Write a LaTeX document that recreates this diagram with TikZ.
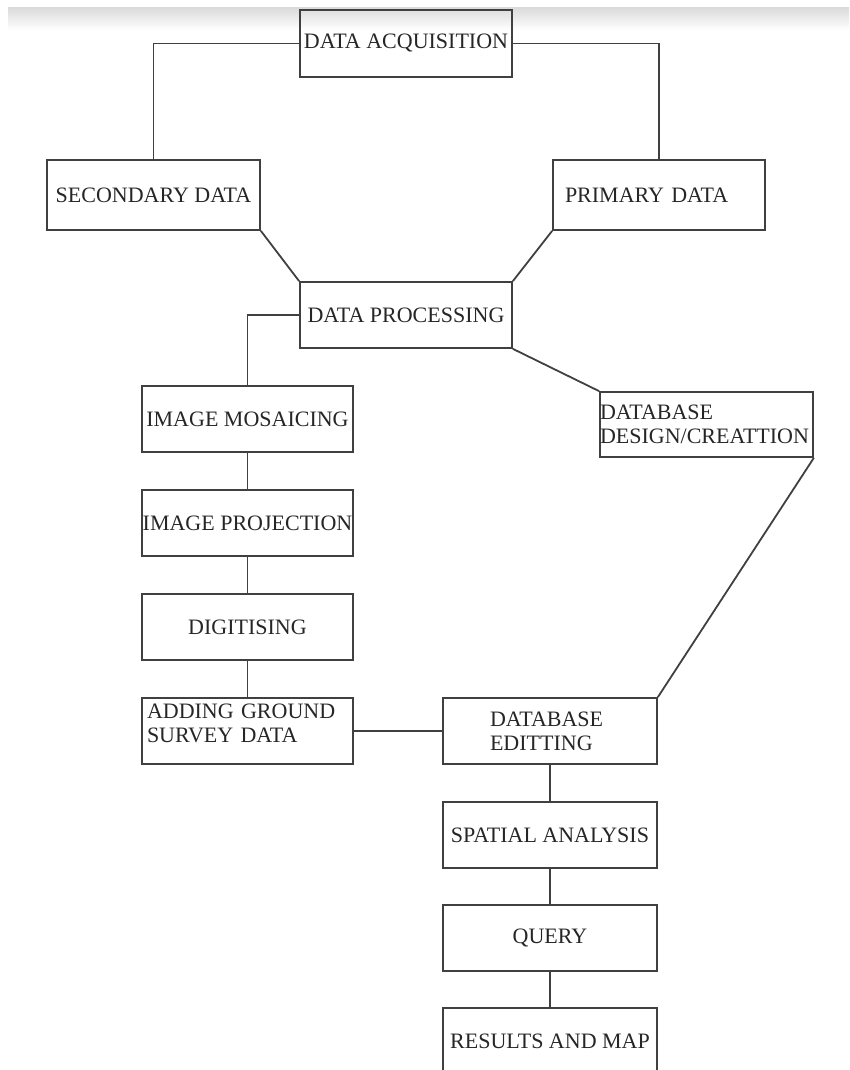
\documentclass[tikz,border=0pt]{standalone}
\usepackage{fontspec}
\setmainfont{Liberation Serif}
\begin{document}
\begin{tikzpicture}[x=1pt,y=-1pt,
  box/.style={draw=black!75, line width=1.7pt, rectangle, inner sep=0pt,
    minimum width=#1, text=black!85, font=\fontsize{22}{24}\selectfont},
  box/.default=212pt,
  ctr/.style={align=center},
  conn/.style={draw=black!75, line width=1.8pt}]
\useasboundingbox (0,0) rectangle (849,1070);
\shade[top color=black!14, bottom color=white] (8,8) rectangle (849,30);
% boxes
\node[box, minimum height=67pt, ctr] (acq) at (406,43.5) {DATA ACQUISITION};
\node[box=213pt, minimum height=70pt, ctr] (sec) at (153.5,195) {SECONDARY DATA};
\node[box, minimum height=70pt, text width=188pt, inner xsep=12pt, align=left] (prim) at (659,195) {PRIMARY DATA};
\node[box, minimum height=66pt, ctr] (proc) at (406,315) {DATA PROCESSING};
\node[box=211pt, minimum height=66pt, ctr] (mos) at (247.5,419) {IMAGE MOSAICING};
\node[box=211pt, minimum height=66pt, ctr] (proj) at (247.5,523) {IMAGE PROJECTION};
\node[box=211pt, minimum height=66pt, ctr] (dig) at (247.5,627) {DIGITISING};
\node[box=211pt, minimum height=66pt, text width=201pt, inner xsep=5pt, align=left, text depth=40pt] (add) at (247.5,731) {ADDING GROUND\\SURVEY DATA};
\node[box=213pt, minimum height=65pt, text width=213pt, inner xsep=0pt, align=left] (ddc) at (706.5,424.5) {DATABASE\\DESIGN/CREATTION};
\node[box=214pt, minimum height=66pt, text width=120pt, inner xsep=47pt, align=left] (dbe) at (550,731) {DATABASE\\EDITTING};
\node[box=214pt, minimum height=66pt, ctr] (spa) at (550,835) {SPATIAL ANALYSIS};
\node[box=214pt, minimum height=66pt, ctr] (qry) at (550,938) {QUERY};
\node[box=214pt, minimum height=67pt, ctr] (res) at (550,1041.5) {RESULTS AND MAP};
% connectors
\draw[conn] (acq.west) -| (sec.north);
\draw[conn] (acq.east) -| (prim.north);
\draw[conn] (sec.south east) -- (proc.north west);
\draw[conn] (prim.south west) -- (proc.north east);
\draw[conn] (proc.west) -| (mos.north);
\draw[conn] (mos) -- (proj);
\draw[conn] (proj) -- (dig);
\draw[conn] (dig) -- (add);
\draw[conn] (proc.south east) -- (ddc.north west);
\draw[conn] (ddc.south east) -- (dbe.north east);
\draw[conn] (add.east) -- (dbe.west);
\draw[conn] (dbe) -- (spa);
\draw[conn] (spa) -- (qry);
\draw[conn] (qry) -- (res);
\end{tikzpicture}
\end{document}
